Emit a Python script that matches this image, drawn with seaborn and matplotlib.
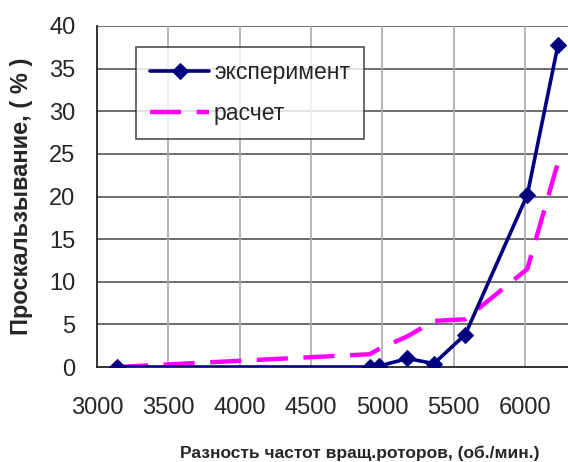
import matplotlib
matplotlib.use("Agg")
import matplotlib.pyplot as plt
import seaborn as sns
import pandas as pd

# data
x_exp = [3140, 4910, 4975, 5175, 5360, 5580, 6015, 6230]
y_exp = [0.0, 0.0, 0.1, 1.0, 0.4, 3.8, 20.2, 37.8]
x_calc = [3140, 4910, 4975, 5175, 5360, 5580, 6015, 6230]
y_calc = [0.0, 1.5, 2.1, 3.6, 5.4, 5.6, 11.5, 24.0]
x_ticks = [3000, 3500, 4000, 4500, 5000, 5500, 6000]
y_ticks = [0, 5, 10, 15, 20, 25, 30, 35, 40]
series_names = ["эксперимент", "расчет"]
x_label = "Разность частот вращ.роторов, (об./мин.)"
y_label = "Проскальзывание, ( % )"

sns.set_style("white")
plt.rcParams['font.family'] = ['Liberation Sans', 'DejaVu Sans']

df_exp = pd.DataFrame({"x": x_exp, "y": y_exp})
df_calc = pd.DataFrame({"x": x_calc, "y": y_calc})

fig = plt.figure(figsize=(5.68, 4.62), dpi=100)
ax = fig.add_axes([97/568, 1-367/462, 1-97/568, (367-26)/462])

sns.lineplot(data=df_exp, x="x", y="y", ax=ax, color="#000080", lw=2.6,
             marker="D", markersize=8, markeredgecolor="#000080",
             sort=False, label=series_names[0], zorder=4)
sns.lineplot(data=df_calc, x="x", y="y", ax=ax, color="#FF00FF", lw=3.2,
             sort=False, label=series_names[1], zorder=3)
ax.lines[1].set_dashes((7, 3.5))

ax.set_xlim(3000, 6300)
ax.set_ylim(0, 40)
ax.set_xticks(x_ticks)
ax.set_yticks(y_ticks)
ax.set_xticklabels([str(v) for v in x_ticks])
ax.set_yticklabels([str(v) for v in y_ticks])

# grid
for v in y_ticks[1:]:
    ax.axhline(v, color="#555555", lw=1.2, zorder=1)
for v in x_ticks[1:]:
    ax.axvline(v, color="#aaaaaa", lw=1.2, zorder=1)

for s in ["top", "right"]:
    ax.spines[s].set_visible(False)
ax.spines["left"].set_color("#222222")
ax.spines["bottom"].set_color("#222222")
ax.spines["left"].set_linewidth(1.3)
ax.spines["bottom"].set_linewidth(1.3)

ax.tick_params(axis="both", which="major", labelsize=17, length=6.5,
               width=1.2, color="#222222", direction="out", pad=9)
ax.tick_params(axis="x", pad=15)

ax.set_xlabel(x_label, fontweight="bold", fontsize=12.5)
ax.xaxis.set_label_coords(0.558, -0.252)
ax.xaxis.label.set_va("center")
ax.set_ylabel(y_label, fontweight="bold", fontsize=17, labelpad=12)

leg = ax.legend(loc="upper left", bbox_to_anchor=(0.083, 0.938), fontsize=16.5,
                frameon=True, fancybox=False, edgecolor="#222222",
                handlelength=2.6, handletextpad=0.2, borderpad=0.6,
                labelspacing=0.8, borderaxespad=0)
leg.get_frame().set_linewidth(1.2)
leg.set_zorder(10)

fig.savefig("out.png", dpi=100, facecolor="white")
